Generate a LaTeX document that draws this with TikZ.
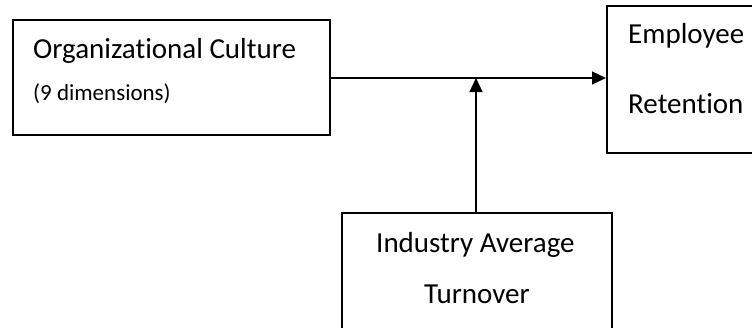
\documentclass[tikz,border=0pt]{standalone}
\usepackage{fontspec}
\setmainfont{Carlito}[Ligatures={NoCommon}]
\usepackage{tikz}
\usetikzlibrary{arrows.meta}

\begin{document}
\begin{tikzpicture}[x=1pt,y=-1pt,
    box/.style={draw, line width=1.6pt, anchor=north west, inner sep=0pt},
    label/.style={anchor=base west, inner sep=0pt, font=\fontsize{29}{34}\selectfont},
    small/.style={anchor=base west, inner sep=0pt, font=\fontsize{23}{27}\selectfont},
    link/.style={line width=1.2pt, -{Triangle[length=14pt,width=13pt]}}]
    \useasboundingbox (0,0) rectangle (752,327);
    \clip (0,0) rectangle (752,327);
    \node[box, minimum width=317pt, minimum height=115pt] (culture) at (12,19) {};
    \node[box, minimum width=180pt, minimum height=147pt] (retention) at (606,5) {};
    \node[box, minimum width=270pt, minimum height=140pt] (turnover) at (341,212) {};
    \node[label] (culturetxt) at (33,58) {Organizational Culture};
    \node[small] (dimtxt) at (33,100) {(9 dimensions)};
    \node[label] (employeetxt) at (628,43) {Employee};
    \node[label] (retentiontxt) at (628,113) {Retention};
    \node[label] (industrytxt) at (376,252) {Industry Average};
    \node[label] (turnovertxt) at (424,303) {Turnover};
    \coordinate (join) at (476,78);
    \draw[link] (culture.east |- join) -- (retention.west |- join);
    \draw[link] (turnover.north -| join) -- (join);
\end{tikzpicture}
\end{document}
